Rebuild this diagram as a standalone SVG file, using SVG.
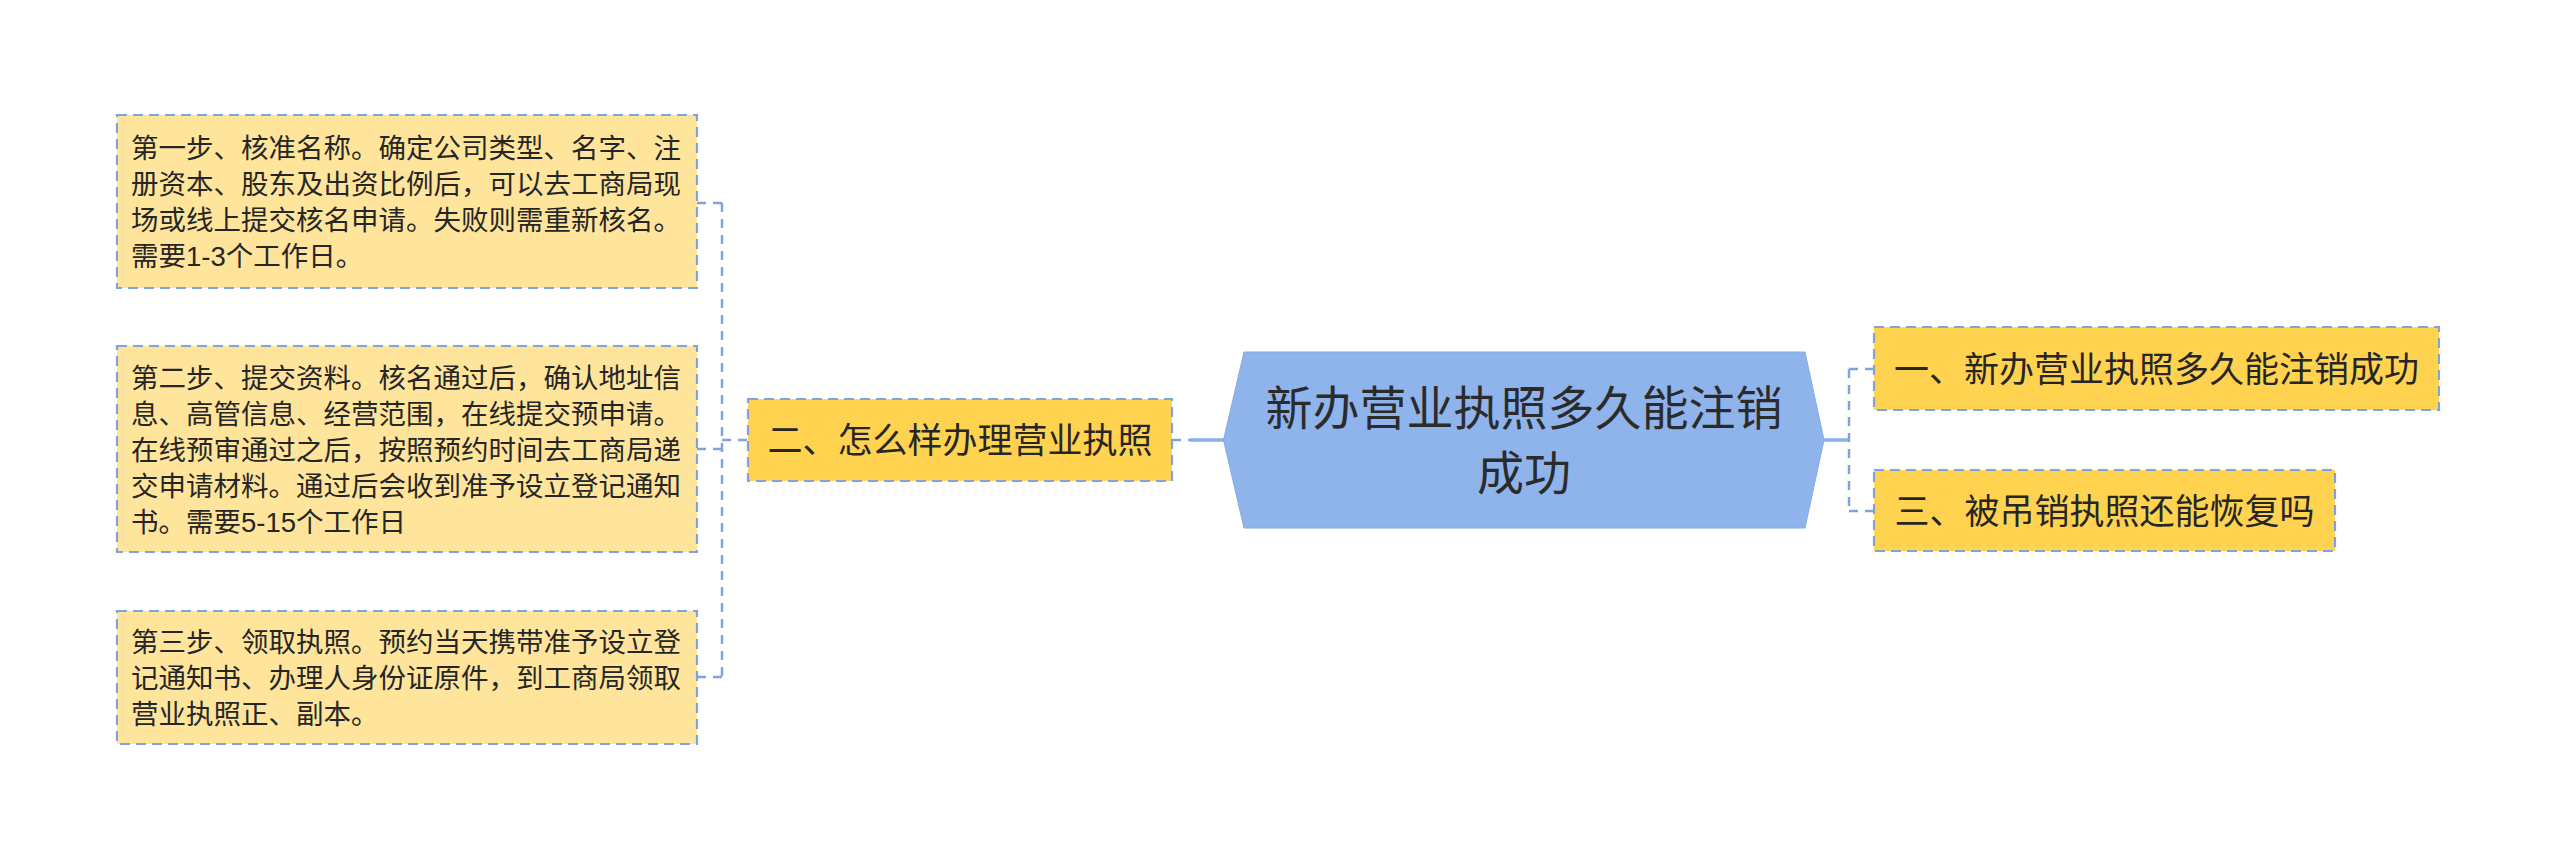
<svg xmlns="http://www.w3.org/2000/svg" width="2560" height="863" viewBox="0 0 2560 863">
<style>
  .desc { fill: #FFE59C; stroke: #7FA3DC; stroke-width: 2.2; stroke-dasharray: 10 6; }
  .sub { fill: #FFD24F; stroke: #7FA3DC; stroke-width: 2.2; stroke-dasharray: 10 6; }
  .hex { fill: #8FB3EB; stroke: #86AAE6; stroke-width: 1; }
  .t { font-family: "Liberation Sans", "Noto Sans CJK SC", sans-serif; fill: #262626; }
  .td { font-size: 27.5px; }
  .ts { font-size: 35px; text-anchor: middle; }
  .tc { font-size: 47px; text-anchor: middle; fill: #2B2B2B; }
  .dash { fill: none; stroke: #7FA3DC; stroke-width: 2.5; stroke-dasharray: 9 7; }
  .solid { fill: none; stroke: #8AAEE8; stroke-width: 3.5; }
</style>
<rect width="2560" height="863" fill="#FFFFFF"/>
<g id="connectors">
  <path class="dash" d="M722 203 V677"/>
  <path class="dash" d="M697 203 H722"/>
  <path class="dash" d="M697 449 H722"/>
  <path class="dash" d="M697 677 H722"/>
  <path class="dash" d="M722 440 H748"/>
  <path class="dash" d="M1172 440 H1190"/>
  <path class="solid" d="M1190 440 H1224"/>
  <path class="solid" d="M1823 440 H1849"/>
  <path class="dash" d="M1849 369 V511"/>
  <path class="dash" d="M1849 369 H1874"/>
  <path class="dash" d="M1849 511 H1874"/>
</g>
<g id="center">
  <polygon class="hex" points="1223.5,440 1244,352 1805,352 1824,440 1805,528 1244,528"/>
  <text class="t tc" x="1524" y="425.4">新办营业执照多久能注销</text>
  <text class="t tc" x="1524" y="490.4">成功</text>
</g>
<g id="node-2">
  <rect class="sub" x="748" y="399" width="424" height="82"/>
  <text class="t ts" x="960" y="453.3">二、怎么样办理营业执照</text>
</g>
<g id="node-1">
  <rect class="sub" x="1874" y="327" width="565" height="83"/>
  <text class="t ts" x="2156.5" y="381.8">一、新办营业执照多久能注销成功</text>
</g>
<g id="node-3">
  <rect class="sub" x="1874" y="470" width="461" height="81"/>
  <text class="t ts" x="2104.5" y="523.8">三、被吊销执照还能恢复吗</text>
</g>
<g id="step-1">
  <rect class="desc" x="117" y="115" width="580" height="173"/>
  <text class="t td" x="131" y="158">第一步、核准名称。确定公司类型、名字、注</text>
  <text class="t td" x="131" y="194">册资本、股东及出资比例后，可以去工商局现</text>
  <text class="t td" x="131" y="230">场或线上提交核名申请。失败则需重新核名。</text>
  <text class="t td" x="131" y="266">需要1-3个工作日。</text>
</g>
<g id="step-2">
  <rect class="desc" x="117" y="346" width="580" height="206"/>
  <text class="t td" x="131" y="387.5">第二步、提交资料。核名通过后，确认地址信</text>
  <text class="t td" x="131" y="423.5">息、高管信息、经营范围，在线提交预申请。</text>
  <text class="t td" x="131" y="459.5">在线预审通过之后，按照预约时间去工商局递</text>
  <text class="t td" x="131" y="495.5">交申请材料。通过后会收到准予设立登记通知</text>
  <text class="t td" x="131" y="531.5">书。需要5-15个工作日</text>
</g>
<g id="step-3">
  <rect class="desc" x="117" y="611" width="580" height="133"/>
  <text class="t td" x="131" y="652">第三步、领取执照。预约当天携带准予设立登</text>
  <text class="t td" x="131" y="688">记通知书、办理人身份证原件，到工商局领取</text>
  <text class="t td" x="131" y="724">营业执照正、副本。</text>
</g>
</svg>
